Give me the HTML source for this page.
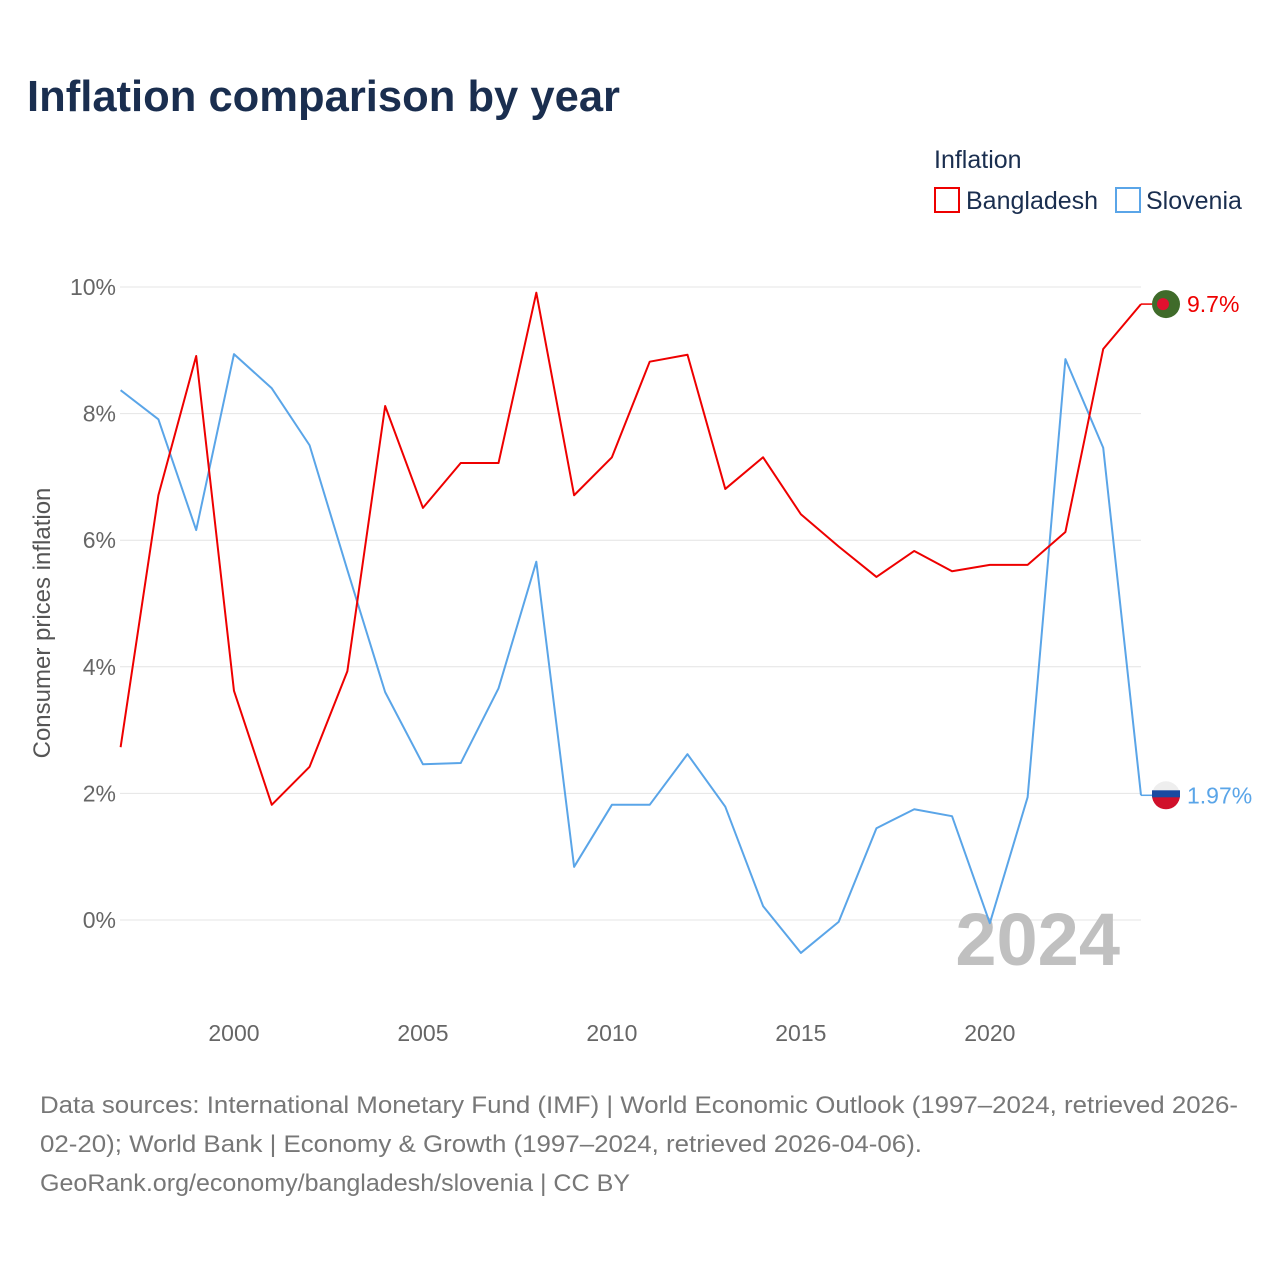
<!DOCTYPE html>
<html><head><meta charset="utf-8"><style>
body{margin:0;background:#fff;width:1280px;height:1280px;overflow:hidden;font-family:"Liberation Sans",sans-serif}
</style></head><body>
<svg width="1280" height="1280" xmlns="http://www.w3.org/2000/svg" id="chart">
<text x="27" y="111" font-size="44" font-weight="bold" fill="#1a2e4f" textLength="593" lengthAdjust="spacingAndGlyphs">Inflation comparison by year</text>
<text x="934" y="168" font-size="25" fill="#1a2e4f">Inflation</text>
<g><rect x="935" y="188" width="24" height="24" fill="none" stroke="#ee0000" stroke-width="2"/><text x="966" y="209" font-size="25" fill="#1a2e4f">Bangladesh</text></g>
<g><rect x="1116" y="188" width="24" height="24" fill="none" stroke="#5aa5e8" stroke-width="2"/><text x="1146" y="209" font-size="25" fill="#1a2e4f">Slovenia</text></g>
<g id="grid"></g><g id="yt"></g><g id="xt"></g>
<text x="1120" y="965" font-size="74" font-weight="bold" fill="#c0c0c0" text-anchor="end">2024</text>
<text transform="translate(50,623) rotate(-90)" font-size="24" fill="#555" text-anchor="middle">Consumer prices inflation</text>
<g id="series"></g>
<g font-size="24" fill="#777">
<text x="40" y="1113" textLength="1198" lengthAdjust="spacingAndGlyphs">Data sources: International Monetary Fund (IMF) | World Economic Outlook (1997–2024, retrieved 2026-</text>
<text x="40" y="1152" textLength="882" lengthAdjust="spacingAndGlyphs">02-20); World Bank | Economy &amp; Growth (1997–2024, retrieved 2026-04-06).</text>
<text x="40" y="1191" textLength="590" lengthAdjust="spacingAndGlyphs">GeoRank.org/economy/bangladesh/slovenia | CC BY</text>
</g>
</svg>
<script>
const years=[1997,1998,1999,2000,2001,2002,2003,2004,2005,2006,2007,2008,2009,2010,2011,2012,2013,2014,2015,2016,2017,2018,2019,2020,2021,2022,2023,2024];
const bangladesh=[2.73,6.71,8.91,3.62,1.82,2.42,3.93,8.12,6.51,7.22,7.22,9.91,6.71,7.31,8.82,8.93,6.81,7.31,6.41,5.9,5.42,5.83,5.51,5.61,5.61,6.13,9.02,9.73];
const slovenia=[8.37,7.91,6.16,8.94,8.40,7.50,5.53,3.60,2.46,2.48,3.66,5.66,0.84,1.82,1.82,2.62,1.79,0.22,-0.52,-0.03,1.45,1.75,1.64,-0.05,1.94,8.86,7.46,1.97];
const yTicks=[0,2,4,6,8,10];
const xTicks=[2000,2005,2010,2015,2020];
const NS="http://www.w3.org/2000/svg";
const X=y=>120.6+(y-1997)*(1141-120.6)/27;
const Y=v=>920-v*63.3;
function mk(t,a,p){const e=document.createElementNS(NS,t);for(const k in a)e.setAttribute(k,a[k]);p.appendChild(e);return e;}
const g=document.getElementById('grid'),yt=document.getElementById('yt'),xt=document.getElementById('xt'),s=document.getElementById('series');
yTicks.forEach(v=>{
const l=mk('line',{x1:120,x2:1141,y1:Y(v),y2:Y(v),stroke:'#e4e4e4','stroke-width':1},g);


const t=mk('text',{x:116,y:Y(v)+8,'font-size':23,fill:'#666','text-anchor':'end'},yt);t.textContent=v+'%';


});
xTicks.forEach(v=>{
const t=mk('text',{x:X(v),y:1041,'font-size':23,fill:'#666','text-anchor':'middle'},xt);t.textContent=v;


});
function series(data,color,name,label){
const pts=data.map((v,i)=>X(years[i])+','+Y(v)).join(' ');
const p=mk('polyline',{points:pts,fill:'none',stroke:color,'stroke-width':2,'stroke-linejoin':'round'},s);


const last=data[data.length-1],ly=Y(last);
mk('line',{x1:1141,x2:1152,y1:ly,y2:ly,stroke:color,'stroke-width':1.5},s);
const c=mk('circle',{cx:1166,cy:ly,r:14,fill:name==='bangladesh'?'#3f6b2a':'#eee'},s);


if(name==='bangladesh')mk('circle',{cx:1163,cy:ly,r:6,fill:'#e0102f'},s);
else{mk('path',{d:`M1152,${ly} h28 a14,14 0 0 1 -28,0z`,fill:'#d0102a'},s);mk('rect',{x:1152,y:ly-5,width:28,height:7,fill:'#1a4aa0'},s);}
const t=mk('text',{x:1187,y:ly+8,'font-size':23,fill:color},s);t.textContent=label;


}
series(slovenia,'#5aa5e8','slovenia',slovenia[slovenia.length-1]+'%');
series(bangladesh,'#ee0000','bangladesh',bangladesh[bangladesh.length-1].toFixed(1)+'%');
</script>
</body></html>
